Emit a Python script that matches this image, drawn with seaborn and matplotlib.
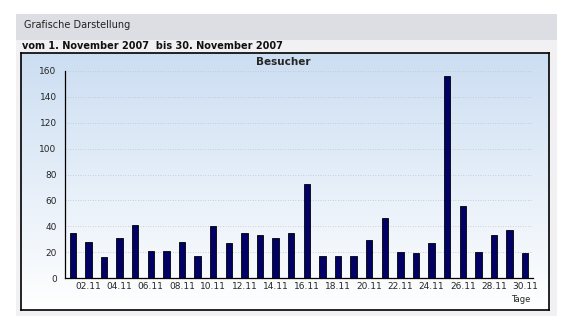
import numpy as np
import pandas as pd
import matplotlib
matplotlib.use("Agg")
import matplotlib.pyplot as plt
from matplotlib.patches import Rectangle
import seaborn as sns

days = [f"{d:02d}.11" for d in range(1, 31)]
visitors = [35, 28, 16, 31, 41, 21, 21, 28, 17, 40,
            27, 35, 33, 31, 35, 73, 17, 17, 17, 29,
            46, 20, 19, 27, 156, 56, 20, 33, 37, 19]
yticks = [0, 20, 40, 60, 80, 100, 120, 140, 160]
header = "Grafische Darstellung"
subheader = "vom 1. November 2007  bis 30. November 2007"
title = "Besucher"
xlabel = "Tage"

sns.set_style("white")
plt.rcParams['font.family'] = ['DejaVu Sans']

W, H = 570, 330
fig = plt.figure(figsize=(W / 100, H / 100), dpi=100)
fig.patch.set_facecolor("white")

def fx(px):
    return px / W

def fy(py):
    return 1 - py / H

# outer panel
fig.patches.append(Rectangle((fx(16), fy(316)), fx(557) - fx(16), fy(14) - fy(316),
                             transform=fig.transFigure, facecolor="#f1f1f3",
                             edgecolor="none", zorder=0))
fig.patches.append(Rectangle((fx(16), fy(40)), fx(557) - fx(16), fy(14) - fy(40),
                             transform=fig.transFigure, facecolor="#dcdee3",
                             edgecolor="none", zorder=0.5))
fig.text(fx(24), fy(25), header, fontsize=7, va="center", ha="left", color="#222222")
fig.text(fx(22), fy(46), subheader, fontsize=7, va="center", ha="left",
         fontweight="bold", color="#111111")

# chart box with gradient
bg = fig.add_axes([fx(21), fy(310), fx(549) - fx(21), fy(53) - fy(310)], zorder=1)
grad = np.linspace(0, 1, 256).reshape(-1, 1)
top = np.array([0.80, 0.87, 0.95])
bot = np.array([1.0, 1.0, 1.0])
img = top[None, None, :] * (1 - grad[:, :, None]) + bot[None, None, :] * grad[:, :, None]
img = np.clip(img, 0, 1)
bg.imshow(img, aspect="auto", extent=[0, 1, 0, 1], origin="upper")
bg.set_xlim(0, 1)
bg.set_ylim(0, 1)
bg.set_xticks([])
bg.set_yticks([])
for s in bg.spines.values():
    s.set_color("black")
    s.set_linewidth(1.2)

ax = fig.add_axes([fx(65), fy(278), fx(533) - fx(65), fy(71) - fy(278)], zorder=2)
ax.patch.set_alpha(0)
df = pd.DataFrame({"day": days, "visitors": visitors})
sns.barplot(data=df, x="day", y="visitors", color="#000066", edgecolor="black",
            linewidth=0.6, width=0.42, saturation=1, ax=ax, zorder=3)
ax.set_xlim(-0.45, 29.45)
ax.set_ylim(0, 160)
ax.set_yticks(yticks)
ax.set_yticks(range(0, 161, 10), minor=True)
ax.set_yticklabels([str(v) for v in yticks], fontsize=6.5)
ax.set_xticks(range(1, 30, 2))
ax.set_xticklabels(days[1::2], fontsize=6.5)
ax.set_xticks(np.arange(-0.5, 30, 1), minor=True)
ax.tick_params(axis="both", which="both", direction="in", color="black")
ax.tick_params(axis="y", which="major", length=4, width=0.8, pad=6)
ax.tick_params(axis="y", which="minor", length=2.5, width=0.8)
ax.tick_params(axis="x", which="major", length=0, pad=3)
ax.tick_params(axis="x", which="minor", length=3, width=0.8)
ax.set_xlabel("")
ax.set_ylabel("")
for v in yticks[1:]:
    ax.axhline(v, color="#b8c4d0", lw=0.6, ls=(0, (1, 2)), zorder=1)
ax.spines["top"].set_visible(False)
ax.spines["right"].set_visible(False)
ax.spines["left"].set_color("black")
ax.spines["bottom"].set_color("black")
ax.spines["left"].set_linewidth(0.9)
ax.spines["bottom"].set_linewidth(0.9)

fig.text(fx(283), fy(62), title, fontsize=7.5, fontweight="bold", ha="center", va="center")
fig.text(fx(521), fy(300), xlabel, fontsize=6, ha="center", va="center")

fig.savefig("out.png", dpi=100)
